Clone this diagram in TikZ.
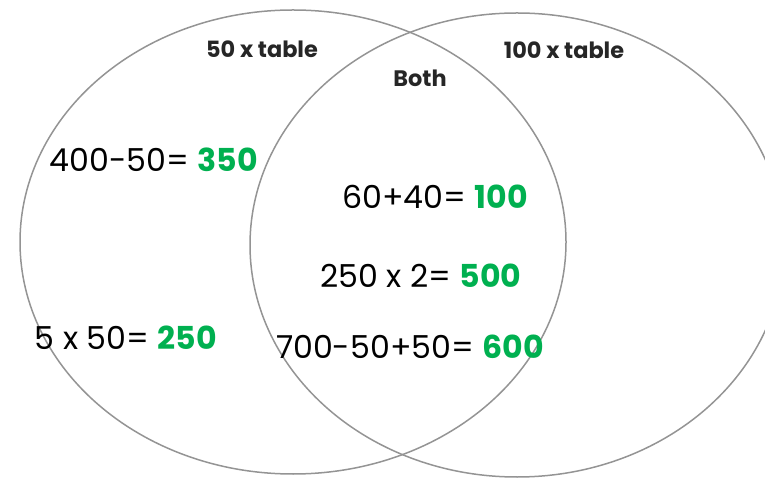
\documentclass[tikz,border=0pt]{standalone}
\usepackage{fontspec}
\setmainfont{Poppins}
\usetikzlibrary{shapes.geometric}
\definecolor{sumgreen}{RGB}{0,176,80}
\newcommand{\res}[1]{\textcolor{sumgreen}{\textbf{#1}}}

\begin{document}
\begin{tikzpicture}[
  x=0.5pt, y=-0.5pt,
  set/.style={draw=black!42, line width=0.75pt, ellipse, inner sep=0pt},
  title/.style={font=\bfseries\fontsize{11.2}{13}\selectfont, text=black!85},
  sum/.style={font=\fontsize{15.8}{19}\selectfont}
]
\useasboundingbox (0,0) rectangle (765,480);
% the two sets
\node[set, minimum width=273pt, minimum height=232pt] (fifty) at (293,242) {};
\node[set, minimum width=267pt, minimum height=232pt] (hundred) at (517,245) {};
% set labels
\node[title] (lfifty) at (262,49) {50 x table};
\node[title] (lboth) at (420,78) {Both};
\node[title] (lhundred) at (564,50) {100 x table};
% sums
\node[sum] (sa) at (154,160) {400-50= \res{350}};
\node[sum] (sb) at (126,338) {5 x 50= \res{250}};
\node[sum] (sc) at (435,197) {60+40= \res{100}};
\node[sum] (sd) at (421,276) {250 x 2= \res{500}};
\node[sum] (se) at (410,347) {700-50+50= \res{600}};
\end{tikzpicture}
\end{document}
